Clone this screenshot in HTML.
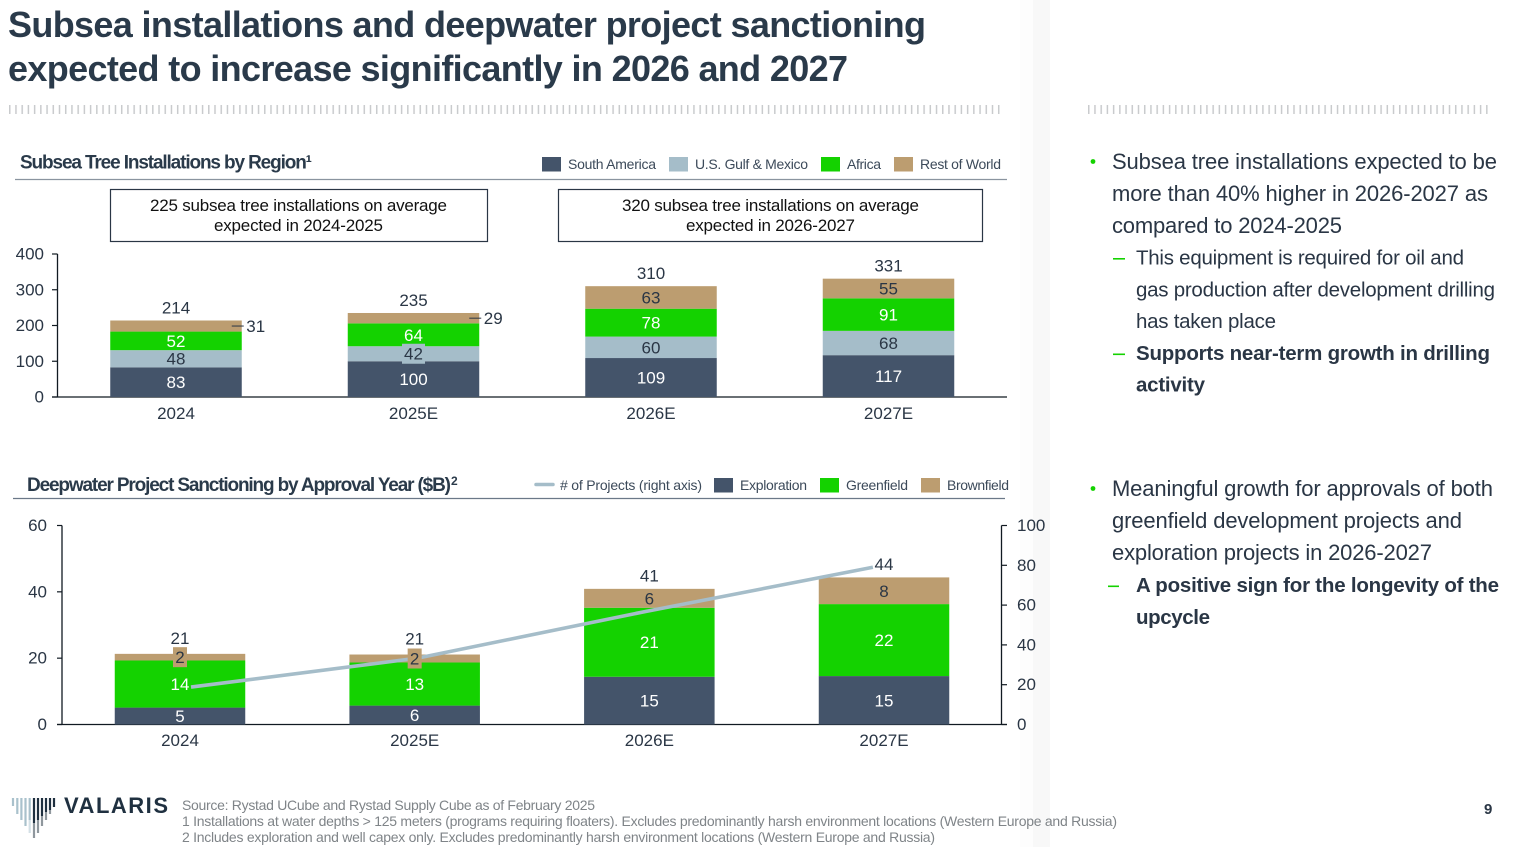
<!DOCTYPE html>
<html lang="en">
<head>
<meta charset="utf-8">
<title>Subsea installations and deepwater project sanctioning</title>
<style>
html,body{margin:0;padding:0;background:#fff;width:1519px;height:847px;overflow:hidden}
svg{display:block;font-family:"Liberation Sans",Arial,sans-serif}
</style>
</head>
<body>
<svg id="page" xmlns="http://www.w3.org/2000/svg" width="1519" height="847" viewBox="0 0 1519 847">
<defs>
<pattern id="tickPatL" x="9" y="105" width="6.22" height="9" patternUnits="userSpaceOnUse"><rect x="0" y="0" width="1.5" height="9" fill="#c9cbcd"/></pattern>
<pattern id="tickPatR" x="1088" y="105" width="6.22" height="9" patternUnits="userSpaceOnUse"><rect x="0" y="0" width="1.5" height="9" fill="#c9cbcd"/></pattern>
</defs>
<rect x="0" y="0" width="1519" height="847" fill="#fff"/>
<rect x="1020" y="0" width="30" height="847" fill="#fdfdfd"/>
<rect x="1033" y="0" width="17" height="847" fill="#f8f8f8"/>

<g font-weight="700" font-size="36" fill="#2a3a4a">
<text x="8" y="37" textLength="918" lengthAdjust="spacing">Subsea installations and deepwater project sanctioning</text>
<text x="8" y="81" textLength="840" lengthAdjust="spacing">expected to increase significantly in 2026 and 2027</text>
</g>
<rect x="9" y="105" width="993" height="9" fill="url(#tickPatL)"/>
<rect x="1088" y="105" width="402" height="9" fill="url(#tickPatR)"/>

<text x="20" y="168.5" font-size="19" font-weight="700" fill="#2a3a4a" textLength="292" lengthAdjust="spacing">Subsea Tree Installations by Region¹</text>
<line x1="15" y1="179.5" x2="1007" y2="179.5" stroke="#8a949f" stroke-width="1.2"/>
<g font-size="14" fill="#3c4a5a">
<g><rect x="542" y="157" width="19" height="14.5" fill="#44546a"/><text x="568" y="169" textLength="88" lengthAdjust="spacing">South America</text></g>
<g><rect x="669" y="157" width="19" height="14.5" fill="#a5bdc9"/><text x="695" y="169" textLength="113" lengthAdjust="spacing">U.S. Gulf &amp; Mexico</text></g>
<g><rect x="821" y="157" width="19" height="14.5" fill="#14d200"/><text x="847" y="169" textLength="34" lengthAdjust="spacing">Africa</text></g>
<g><rect x="894" y="157" width="19" height="14.5" fill="#bc9d70"/><text x="920" y="169" textLength="81" lengthAdjust="spacing">Rest of World</text></g>
</g>

<g>
<rect x="110.5" y="189.5" width="377" height="52" fill="#fff" stroke="#2a3645" stroke-width="1.2"/>
<text x="150" y="211" font-size="17" fill="#111" textLength="297" lengthAdjust="spacing">225 subsea tree installations on average</text>
<text x="214" y="231" font-size="17" fill="#111" textLength="169" lengthAdjust="spacing">expected in 2024-2025</text>
</g>
<g>
<rect x="558.5" y="189.5" width="424" height="52" fill="#fff" stroke="#2a3645" stroke-width="1.2"/>
<text x="622" y="211" font-size="17" fill="#111" textLength="297" lengthAdjust="spacing">320 subsea tree installations on average</text>
<text x="686" y="231" font-size="17" fill="#111" textLength="169" lengthAdjust="spacing">expected in 2026-2027</text>
</g>

<g id="chart1"></g>

<text x="27" y="491" font-size="19" font-weight="700" fill="#2a3a4a" textLength="424" lengthAdjust="spacing">Deepwater Project Sanctioning by Approval Year ($B)</text>
<text x="451" y="485" font-size="12" font-weight="700" fill="#2a3a4a">2</text>
<line x1="13" y1="498.5" x2="1005" y2="498.5" stroke="#6b7888" stroke-width="1.2"/>
<g font-size="14" fill="#3c4a5a">
<g><line x1="536" y1="484.5" x2="553" y2="484.5" stroke="#a5bdc9" stroke-width="3.5" stroke-linecap="round"/><text x="560" y="490" textLength="142" lengthAdjust="spacing"># of Projects (right axis)</text></g>
<g><rect x="714" y="478" width="19" height="14.5" fill="#44546a"/><text x="740" y="490" textLength="67" lengthAdjust="spacing">Exploration</text></g>
<g><rect x="820" y="478" width="19" height="14.5" fill="#14d200"/><text x="846" y="490" textLength="62" lengthAdjust="spacing">Greenfield</text></g>
<g><rect x="921" y="478" width="19" height="14.5" fill="#bc9d70"/><text x="947" y="490" textLength="62" lengthAdjust="spacing">Brownfield</text></g>
</g>

<g id="chart2"></g>

<g font-size="22" fill="#2a3645">
<circle cx="1093" cy="161.5" r="2.4" fill="#14d200"/>
<text x="1112" y="169" textLength="385" lengthAdjust="spacing">Subsea tree installations expected to be</text>
<text x="1112" y="201" textLength="376" lengthAdjust="spacing">more than 40% higher in 2026-2027 as</text>
<text x="1112" y="233" textLength="230" lengthAdjust="spacing">compared to 2024-2025</text>
<rect x="1113" y="258" width="12" height="1.6" fill="#14d200"/>
<text x="1136" y="264.5" font-size="20.5" textLength="328" lengthAdjust="spacing">This equipment is required for oil and</text>
<text x="1136" y="296.5" font-size="20.5" textLength="359" lengthAdjust="spacing">gas production after development drilling</text>
<text x="1136" y="328" font-size="20.5" textLength="140" lengthAdjust="spacing">has taken place</text>
<rect x="1113" y="353.5" width="12" height="1.6" fill="#14d200"/>
<text x="1136" y="360" font-weight="700" font-size="20.5" textLength="354" lengthAdjust="spacing">Supports near-term growth in drilling</text>
<text x="1136" y="391.5" font-weight="700" font-size="20.5" textLength="69" lengthAdjust="spacing">activity</text>
</g>
<g font-size="22" fill="#2a3645">
<circle cx="1093" cy="488.5" r="2.4" fill="#14d200"/>
<text x="1112" y="496" textLength="381" lengthAdjust="spacing">Meaningful growth for approvals of both</text>
<text x="1112" y="528" textLength="350" lengthAdjust="spacing">greenfield development projects and</text>
<text x="1112" y="560" textLength="320" lengthAdjust="spacing">exploration projects in 2026-2027</text>
<rect x="1108" y="585.5" width="11" height="1.6" fill="#14d200"/>
<text x="1136" y="592" font-weight="700" font-size="20.5" textLength="363" lengthAdjust="spacing">A positive sign for the longevity of the</text>
<text x="1136" y="624" font-weight="700" font-size="20.5" textLength="74" lengthAdjust="spacing">upcycle</text>
</g>

<g>
<g stroke-width="2.2">
<line x1="13" y1="798" x2="13" y2="806" stroke="#a9c1cc"/>
<line x1="17.3" y1="798" x2="17.3" y2="814" stroke="#a9c1cc"/>
<line x1="21.4" y1="798" x2="21.4" y2="820" stroke="#a9c1cc"/>
<line x1="25.5" y1="798" x2="25.5" y2="826" stroke="#a9c1cc"/>
<line x1="29.7" y1="798" x2="29.7" y2="820" stroke="#a9c1cc"/>
<line x1="29.7" y1="820" x2="29.7" y2="833" stroke="#d3e0e6"/>
<line x1="34" y1="798" x2="34" y2="823" stroke="#1f3040"/>
<line x1="34" y1="823" x2="34" y2="838" stroke="#8f979d"/>
<line x1="38" y1="798" x2="38" y2="820" stroke="#1f3040"/>
<line x1="38" y1="820" x2="38" y2="833" stroke="#8f979d"/>
<line x1="42" y1="798" x2="42" y2="816" stroke="#1f3040"/>
<line x1="42" y1="816" x2="42" y2="826" stroke="#8f979d"/>
<line x1="46" y1="798" x2="46" y2="812" stroke="#1f3040"/>
<line x1="46" y1="812" x2="46" y2="820" stroke="#8f979d"/>
<line x1="50" y1="798" x2="50" y2="810" stroke="#1f3040"/>
<line x1="50" y1="810" x2="50" y2="814" stroke="#8f979d"/>
<line x1="54" y1="798" x2="54" y2="807" stroke="#1f3040"/>
</g>
<text x="64" y="813" font-size="22" font-weight="700" fill="#1f3040" textLength="104" lengthAdjust="spacing">VALARIS</text>
</g>

<g font-size="14" fill="#7f8488">
<text x="182" y="810" textLength="413" lengthAdjust="spacing">Source: Rystad UCube and Rystad Supply Cube as of February 2025</text>
<text x="182" y="826" textLength="935" lengthAdjust="spacing">1 Installations at water depths &gt; 125 meters (programs requiring floaters). Excludes predominantly harsh environment locations (Western Europe and Russia)</text>
<text x="182" y="842" textLength="753" lengthAdjust="spacing">2 Includes exploration and well capex only. Excludes predominantly harsh environment locations (Western Europe and Russia)</text>
</g>
<text x="1484" y="814" font-size="15" font-weight="700" fill="#2a3645">9</text>
</svg>

<script>
// Subsea tree installations chart data
const subseaCategories = ['2024', '2025E', '2026E', '2027E'];
const southAmerica = [83, 100, 109, 117];
const usGulfMexico = [48, 42, 60, 68];
const africa = [52, 64, 78, 91];
const restOfWorld = [31, 29, 63, 55];
const subseaTotals = [214, 235, 310, 331];
const subseaTicks = [0, 100, 200, 300, 400];

// Deepwater sanctioning chart data (heights)
const deepwaterCategories = ['2024', '2025E', '2026E', '2027E'];
const exploration = [5.1, 5.7, 14.4, 14.6];
const greenfield = [14.2, 13, 20.8, 21.7];
const brownfield = [2, 2.4, 5.7, 8.05];
const explorationLabels = ['5', '6', '15', '15'];
const greenfieldLabels = ['14', '13', '21', '22'];
const brownfieldLabels = ['2', '2', '6', '8'];
const deepwaterTotals = ['21', '21', '41', '44'];
const projects = [18.8, 33.4, 56.8, 79];
const leftTicks = [0, 20, 40, 60];
const rightTicks = [0, 20, 40, 60, 80, 100];

const NS = 'http://www.w3.org/2000/svg';
const DARK = '#2a3645';
const AXIS = '#111a22';
const COLORS = {dark: '#44546a', blue: '#a5bdc9', green: '#14d200', tan: '#bc9d70'};

function el(parent, tag, attrs, name) {
  const node = document.createElementNS(NS, tag);
  for (const k in attrs) node.setAttribute(k, attrs[k]);
  
  
  parent.appendChild(node);
  return node;
}
function label(parent, x, y, str, fill, anchor, name) {
  const t = el(parent, 'text', {x: x, y: y, fill: fill, 'font-size': 17, 'text-anchor': anchor || 'middle'}, name);
  t.textContent = str;
  return t;
}

/* ---------- Chart 1 ---------- */
(function () {
  const g = document.getElementById('chart1');
  const y = v => 397 - v * 143 / 400;
  const cx = i => 176 + 237.5 * i;
  const W = 131.5;
  el(g, 'line', {x1: 57.5, y1: y(400), x2: 57.5, y2: y(0), stroke: AXIS, 'stroke-width': 1.3}, 'y-axis');
  el(g, 'line', {x1: 52, y1: y(0), x2: 1007, y2: y(0), stroke: AXIS, 'stroke-width': 1.3}, 'x-axis');
  subseaTicks.forEach(t => {
    el(g, 'line', {x1: 52, y1: y(t), x2: 57.5, y2: y(t), stroke: AXIS, 'stroke-width': 1.2}, 'y-tick');
    label(g, 44, y(t) + 5.5, String(t), DARK, 'end', 'y-tick-label');
  });
  const series = [
    {vals: southAmerica, color: COLORS.dark, text: '#fff', name: 'south-america'},
    {vals: usGulfMexico, color: COLORS.blue, text: DARK, name: 'us-gulf-mexico'},
    {vals: africa, color: COLORS.green, text: '#fff', name: 'africa'},
    {vals: restOfWorld, color: COLORS.tan, text: DARK, name: 'rest-of-world'}
  ];
  subseaCategories.forEach((c, i) => {
    let base = 0;
    series.forEach(s => {
      const v = s.vals[i];
      el(g, 'rect', {x: cx(i) - W / 2, y: y(base + v), width: W, height: y(base) - y(base + v), fill: s.color}, 'bar-' + s.name + '-' + c);
      base += v;
    });
    label(g, cx(i), 419, c, DARK, 'middle', 'x-tick-label');
  });
  subseaCategories.forEach((c, i) => {
    let base = 0;
    series.forEach(s => {
      const v = s.vals[i];
      const mid = (y(base) + y(base + v)) / 2;
      if (s.name === 'rest-of-world' && i < 2) {
        const right = cx(i) + W / 2;
        el(g, 'line', {x1: right - 10, y1: mid, x2: right + 2, y2: mid, stroke: DARK, 'stroke-width': 1}, 'leader-line');
        label(g, right + 4.5, mid + 6, String(v), DARK, 'start', 'value-label-outside');
      } else {
        if (s.name === 'us-gulf-mexico' && i === 1) {
          el(g, 'rect', {x: cx(i) - 11.5, y: mid - 10, width: 23, height: 20, fill: s.color}, 'label-background');
        }
        label(g, cx(i), mid + 6, String(v), s.text, 'middle', 'value-label');
      }
      base += v;
    });
    label(g, cx(i), y(base) - 7, String(subseaTotals[i]), DARK, 'middle', 'total-label');
  });
})();

/* ---------- Chart 2 ---------- */
(function () {
  const g = document.getElementById('chart2');
  const y = v => 724.5 - v * 199 / 60;
  const yR = v => 724.5 - v * 199 / 100;
  const cx = i => 180 + 234.67 * i;
  const lineX = i => 191 + 227.3 * i;
  const W = 130.5;
  el(g, 'line', {x1: 62, y1: y(60), x2: 62, y2: y(0), stroke: AXIS, 'stroke-width': 1.3}, 'left-y-axis');
  el(g, 'line', {x1: 1001.5, y1: yR(100), x2: 1001.5, y2: yR(0), stroke: AXIS, 'stroke-width': 1.3}, 'right-y-axis');
  el(g, 'line', {x1: 57, y1: y(0), x2: 1007, y2: y(0), stroke: AXIS, 'stroke-width': 1.3}, 'x-axis');
  leftTicks.forEach(t => {
    el(g, 'line', {x1: 57, y1: y(t), x2: 62, y2: y(t), stroke: AXIS, 'stroke-width': 1.2}, 'left-y-tick');
    label(g, 47, y(t) + 5.5, String(t), DARK, 'end', 'left-y-tick-label');
  });
  rightTicks.forEach(t => {
    el(g, 'line', {x1: 1001.5, y1: yR(t), x2: 1007, y2: yR(t), stroke: AXIS, 'stroke-width': 1.2}, 'right-y-tick');
    label(g, 1017, yR(t) + 5.5, String(t), DARK, 'start', 'right-y-tick-label');
  });
  const series = [
    {vals: exploration, labels: explorationLabels, color: COLORS.dark, text: '#fff', name: 'exploration'},
    {vals: greenfield, labels: greenfieldLabels, color: COLORS.green, text: '#fff', name: 'greenfield'},
    {vals: brownfield, labels: brownfieldLabels, color: COLORS.tan, text: DARK, name: 'brownfield'}
  ];
  deepwaterCategories.forEach((c, i) => {
    let base = 0;
    series.forEach(s => {
      const v = s.vals[i];
      el(g, 'rect', {x: cx(i) - W / 2, y: y(base + v), width: W, height: y(base) - y(base + v), fill: s.color}, 'bar-' + s.name + '-' + c);
      base += v;
    });
    label(g, cx(i), 746, c, DARK, 'middle', 'x-tick-label');
  });
  const pts = projects.map((v, i) => lineX(i) + ',' + yR(v)).join(' ');
  el(g, 'polyline', {points: pts, fill: 'none', stroke: COLORS.blue, 'stroke-width': 3.6}, 'projects-line');
  deepwaterCategories.forEach((c, i) => {
    let base = 0;
    series.forEach(s => {
      const v = s.vals[i];
      const mid = (y(base) + y(base + v)) / 2;
      if (s.name === 'brownfield' && i < 2) {
        el(g, 'rect', {x: cx(i) - 7, y: mid - 10, width: 14, height: 20, fill: s.color}, 'label-background');
      }
      label(g, cx(i), mid + 6, s.labels[i], s.text, 'middle', 'value-label');
      base += v;
    });
    label(g, cx(i), y(base) - (i < 2 ? 10 : 7.5), deepwaterTotals[i], DARK, 'middle', 'total-label');
  });
})();
</script>
</body>
</html>
